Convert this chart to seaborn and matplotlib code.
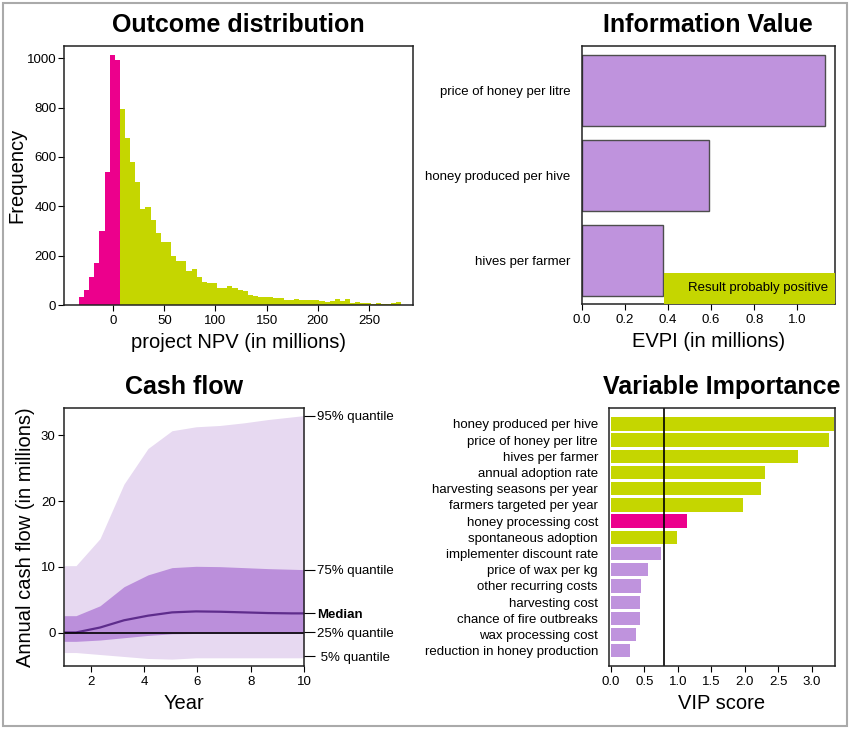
import numpy as np
import pandas as pd
import matplotlib
matplotlib.use("Agg")
import matplotlib.pyplot as plt
from matplotlib.patches import Rectangle
import seaborn as sns

# ---- data ----
# histogram of project NPV (counts per 5-million bin)
bin_start = -33.4
bin_width = 5
npv_counts = [34, 61, 112, 169, 300, 538, 1012, 994,
              795, 678, 578, 500, 388, 396, 345, 291, 257, 254, 200, 178, 178, 139, 147,
              112, 93, 90, 90, 70, 68, 77, 68, 61, 58, 41, 38, 34, 34, 31, 27, 30,
              19, 19, 23, 20, 20, 19, 19, 16, 13, 16, 23, 17, 23, 7, 13, 7, 7, 5, 7,
              5, 5, 7, 12]
n_negative_bins = 8

# EVPI
evpi_names = ["price of honey per litre", "honey produced per hive", "hives per farmer"]
evpi_values = [1.128, 0.590, 0.375]

# cash flow quantiles
cf_year = [1, 1.45, 2.35, 3.25, 4.15, 5.05, 5.95, 6.85, 7.75, 8.65, 9.55, 10]
cf_q05 = [-3.0, -3.0, -3.3, -3.6, -3.9, -4.0, -3.8, -3.8, -3.8, -3.8, -3.8, -3.8]
cf_q25 = [-1.3, -1.3, -1.1, -0.75, -0.4, -0.15, -0.1, -0.1, -0.1, -0.1, -0.1, -0.1]
cf_q50 = [0.05, 0.05, 0.8, 1.9, 2.6, 3.1, 3.25, 3.2, 3.1, 3.0, 2.95, 2.95]
cf_q75 = [2.6, 2.6, 4.1, 7.0, 8.8, 9.9, 10.1, 10.05, 9.9, 9.75, 9.65, 9.6]
cf_q95 = [10.2, 10.2, 14.3, 22.6, 28.0, 30.7, 31.3, 31.5, 31.9, 32.4, 32.8, 33.0]

# variable importance
vip_names = ["honey produced per hive", "price of honey per litre", "hives per farmer",
             "annual adoption rate", "harvesting seasons per year", "farmers targeted per year",
             "honey processing cost", "spontaneous adoption", "implementer discount rate",
             "price of wax per kg", "other recurring costs", "harvesting cost",
             "chance of fire outbreaks", "wax processing cost", "reduction in honey production"]
vip_scores = [3.34, 3.26, 2.79, 2.31, 2.24, 1.97, 1.13, 0.98, 0.75, 0.56, 0.45, 0.44, 0.44, 0.38, 0.29]
vip_sign = ["+", "+", "+", "+", "+", "+", "-", "+", "+", "-", "-", "-", "-", "-", "-"]
vip_threshold = 0.8

PINK = "#EC008C"
GREEN = "#C5D600"
PURPLE = "#BF93DD"
LIGHT = "#E7D9F1"
MID = "#BB8FDB"
DARK = "#5E2C8C"

sns.set_style("ticks")
plt.rcParams["font.family"] = ["Liberation Sans", "DejaVu Sans"]
plt.rcParams["axes.linewidth"] = 1.1
plt.rcParams["xtick.major.size"] = 4
plt.rcParams["ytick.major.size"] = 4
plt.rcParams["text.color"] = "black"
plt.rcParams["axes.labelcolor"] = "black"
plt.rcParams["xtick.color"] = "black"
plt.rcParams["ytick.color"] = "black"

TICK = 9.5
LAB = 14.5
TITLE = 18

fig = plt.figure(figsize=(8.5, 7.3), dpi=100)
W, H = 850, 730


def add_ax(left, top, right, bottom):
    return fig.add_axes([left / W, 1 - bottom / H, (right - left) / W, (bottom - top) / H])


# ---- Outcome distribution ----
ax1 = add_ax(64, 45.7, 413, 305)
edges = [bin_start + bin_width * i for i in range(len(npv_counts) + 1)]
centers = [e + bin_width / 2 for e in edges[:-1]]
hist_df = pd.DataFrame({
    "npv": centers,
    "count": npv_counts,
    "side": ["neg"] * n_negative_bins + ["pos"] * (len(npv_counts) - n_negative_bins),
})
sns.histplot(data=hist_df, x="npv", weights="count", bins=edges, hue="side",
             palette={"neg": PINK, "pos": GREEN}, alpha=1, linewidth=0,
             legend=False, ax=ax1)
ax1.set_xlim(-48, 293)
ax1.set_ylim(0, 1051)
ax1.set_xticks([0, 50, 100, 150, 200, 250])
ax1.set_yticks([0, 200, 400, 600, 800, 1000])
ax1.set_xlabel("project NPV (in millions)", fontsize=LAB)
ax1.set_ylabel("Frequency", fontsize=LAB, labelpad=0)
ax1.set_title("Outcome distribution", fontsize=TITLE, fontweight="bold", pad=10)

# ---- Information Value ----
ax2 = add_ax(581.7, 45.7, 835, 304)
sns.barplot(x=evpi_values, y=evpi_names, orient="h", color=PURPLE, saturation=1,
            edgecolor="#4d4d4d", linewidth=1, width=0.835, ax=ax2)
x_right = 1.174
ax2.set_xlim(0, x_right)
ax2.set_ylim(2.515, -0.53)
box_left = min(evpi_values) + 0.008
ax2.add_patch(Rectangle((box_left, 2.154), x_right - box_left, 2.515 - 2.154,
                        facecolor=GREEN, edgecolor="none", zorder=3))
ax2.text(x_right - 0.033, 2.33, "Result probably positive", ha="right", va="center",
         fontsize=TICK, zorder=4)
ax2.set_xticks([0, 0.2, 0.4, 0.6, 0.8, 1.0])
ax2.set_xticklabels(["0.0", "0.2", "0.4", "0.6", "0.8", "1.0"])
ax2.tick_params(axis="y", length=0, pad=8)
ax2.set_xlabel("EVPI (in millions)", fontsize=LAB)
ax2.set_title("Information Value", fontsize=TITLE, fontweight="bold", pad=10)

# ---- Cash flow ----
ax3 = add_ax(64, 407.7, 304, 665.7)
ax3.fill_between(cf_year, cf_q05, cf_q95, color=LIGHT, linewidth=0)
ax3.fill_between(cf_year, cf_q25, cf_q75, color=MID, linewidth=0)
sns.lineplot(x=cf_year, y=cf_q50, color=DARK, linewidth=1.6, ax=ax3)
ax3.axhline(0, color="black", linewidth=1.2)
ax3.set_xlim(1, 10)
ax3.set_ylim(-5, 34.2)
ax3.set_xticks([2, 4, 6, 8, 10])
ax3.set_yticks([0, 10, 20, 30])
ax3.set_xlabel("Year", fontsize=LAB)
ax3.set_ylabel("Annual cash flow (in millions)", fontsize=LAB, labelpad=4)
ax3.set_title("Cash flow", fontsize=TITLE, fontweight="bold", pad=10)
axr = ax3.twinx()
axr.set_ylim(ax3.get_ylim())
axr.set_yticks([cf_q95[-1], cf_q75[-1], cf_q50[-1], cf_q25[-1] + 0.2, cf_q05[-1] + 0.2])
axr.set_yticklabels(["95% quantile", "75% quantile", "Median", "25% quantile", " 5% quantile"])
axr.tick_params(axis="y", length=8, pad=1.5, labelsize=TICK, colors="black")
axr.get_yticklabels()[2].set_fontweight("bold")

# ---- Variable Importance ----
ax4 = add_ax(609, 407.7, 835, 665.7)
vip_colors = [PURPLE if s < vip_threshold else (GREEN if g == "+" else PINK)
              for s, g in zip(vip_scores, vip_sign)]
sns.barplot(x=vip_scores, y=vip_names, hue=vip_names, palette=vip_colors, legend=False,
            orient="h", saturation=1, width=0.82, linewidth=0, ax=ax4)
ax4.axvline(vip_threshold, color="black", linewidth=1.2)
ax4.set_xlim(-0.03, 3.35)
ax4.set_ylim(14.92, -1.0)
ax4.set_xticks([0, 0.5, 1.0, 1.5, 2.0, 2.5, 3.0])
ax4.set_xticklabels(["0.0", "0.5", "1.0", "1.5", "2.0", "2.5", "3.0"])
ax4.tick_params(axis="y", length=0, pad=8)
ax4.set_xlabel("VIP score", fontsize=LAB)
ax4.set_ylabel("")
ax4.set_title("Variable Importance", fontsize=TITLE, fontweight="bold", pad=10)

for ax in [ax1, ax2, ax3, ax4]:
    ax.tick_params(labelsize=TICK, colors="black")
    for sp in ax.spines.values():
        sp.set_visible(True)
        sp.set_color("#222222")
ax1.tick_params(axis="y", pad=1.5)
ax3.tick_params(axis="y", pad=2)
for sp in axr.spines.values():
    sp.set_visible(False)

fig.patches.append(Rectangle((0.003, 0.0055), 0.993, 0.991, transform=fig.transFigure,
                             fill=False, edgecolor="#aaaaaa", linewidth=1.5))

fig.savefig("out.png", dpi=100)
